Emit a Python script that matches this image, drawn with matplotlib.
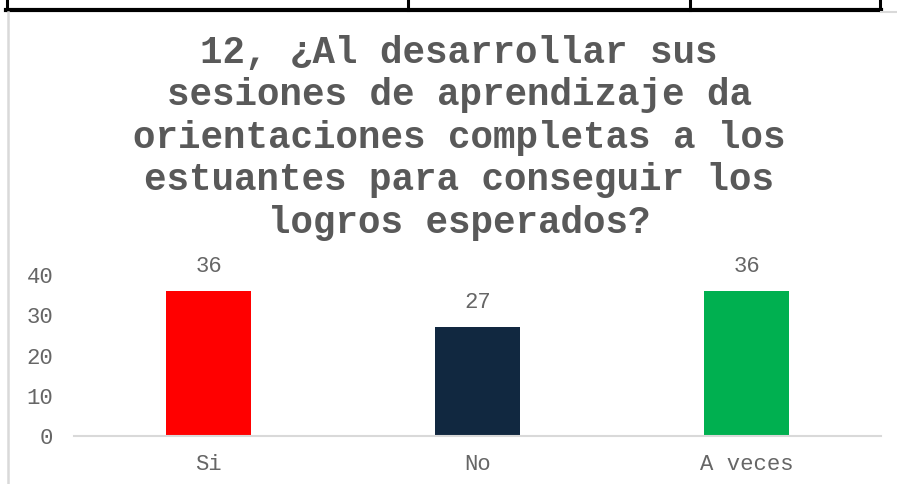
import matplotlib
matplotlib.use("Agg")
import matplotlib.pyplot as plt
from matplotlib.lines import Line2D

categories = ["Si", "No", "A veces"]
values = [36, 27, 36]
colors = ["#FF0000", "#112840", "#00B050"]
yticks = [0, 10, 20, 30, 40]
title = ("12, ¿Al desarrollar sus\nsesiones de aprendizaje da\n"
         "orientaciones completas a los\nestuantes para conseguir los\n"
         "logros esperados?")

W, H = 897, 484
fig = plt.figure(figsize=(W / 100, H / 100), dpi=100)
fig.patch.set_facecolor("white")

mono = ["Liberation Mono", "DejaVu Sans Mono"]
gray = "#595959"

# axes placement in pixels
x0, x1 = 74, 881
y_top, y_zero = 275, 436
ax = fig.add_axes([x0 / W, (H - y_zero) / H, (x1 - x0) / W, (y_zero - y_top) / H])
ax.bar(range(len(categories)), values, width=0.315, color=colors, zorder=2)
ax.set_xlim(-0.5, len(categories) - 0.5)
ax.set_ylim(0, 40)
ax.set_yticks(yticks)
ax.set_xticks(range(len(categories)))
ax.set_xticklabels(categories)
for s in ["top", "right", "left"]:
    ax.spines[s].set_visible(False)
ax.spines["bottom"].set_color("#D9D9D9")
ax.spines["bottom"].set_linewidth(1.5)
ax.tick_params(axis="both", length=0, labelcolor="#666666", labelsize=16)
ax.tick_params(axis="y", pad=15)
ax.tick_params(axis="x", pad=13)
for lab in ax.get_xticklabels() + ax.get_yticklabels():
    lab.set_family(mono)

for i, v in enumerate(values):
    ax.annotate(str(v), (i, v), xytext=(0, 18), textcoords="offset points",
                ha="center", va="center", fontsize=16, color="#666666",
                family=mono, annotation_clip=False)

fig.text(459 / W, 1 - 35 / H, title, ha="center", va="top", fontsize=27,
         fontweight="bold", color=gray, family=mono, linespacing=1.23)

# frame decorations: table border at top, chart border at left
def px_line(xs, ys, color, lw):
    fig.add_artist(Line2D([x / W for x in xs], [1 - y / H for y in ys],
                          color=color, linewidth=lw, transform=fig.transFigure))

px_line([6, 881], [9.5, 9.5], "black", 3)
for xv in [7, 408, 690, 880]:
    px_line([xv, xv], [0, 10], "black", 2.2)
px_line([881, 897], [11.5, 11.5], "#D9D9D9", 1.5)
px_line([8, 8], [12, 484], "#D9D9D9", 1.8)

fig.savefig("out.png", dpi=100, facecolor="white")
